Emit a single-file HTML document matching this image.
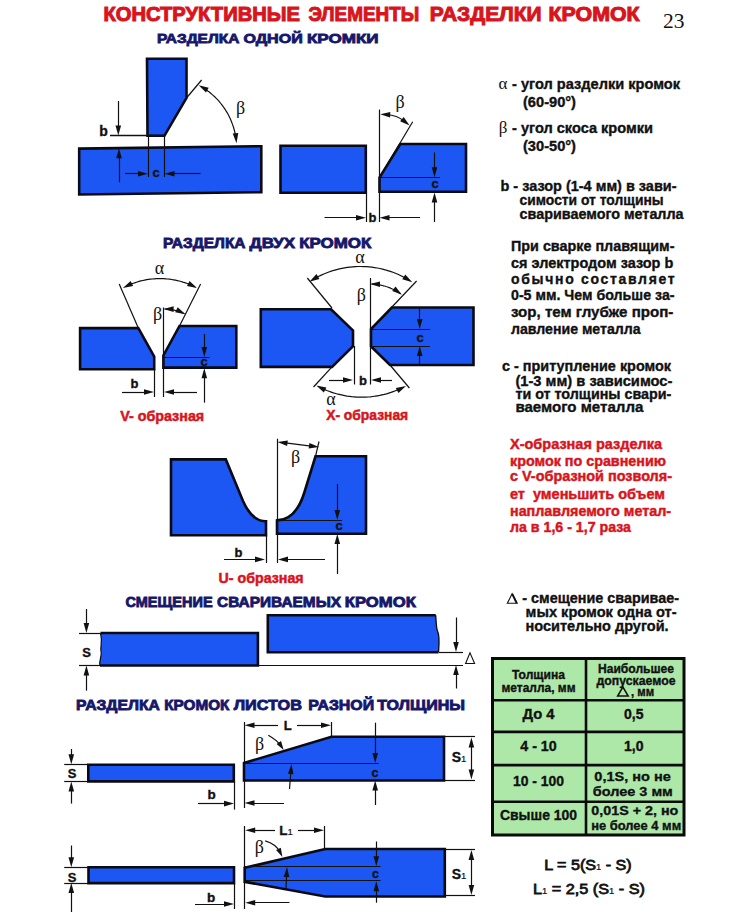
<!DOCTYPE html>
<html><head><meta charset="utf-8"><style>
html,body{margin:0;padding:0;background:#ffffff;}
body{width:743px;height:916px;overflow:hidden;position:relative;}
svg{position:absolute;left:0;top:0;}
</style></head><body>
<svg width="743" height="916" viewBox="0 0 743 916">
<text x="103.4" y="21" font-family="&quot;Liberation Sans&quot;, sans-serif" font-size="20" font-weight="bold" fill="#d8141c" text-anchor="start" textLength="196.6" lengthAdjust="spacingAndGlyphs" stroke="#d8141c" stroke-width="1.0" >КОНСТРУКТИВНЫЕ</text>
<text x="308.6" y="21" font-family="&quot;Liberation Sans&quot;, sans-serif" font-size="20" font-weight="bold" fill="#d8141c" text-anchor="start" textLength="110.7" lengthAdjust="spacingAndGlyphs" stroke="#d8141c" stroke-width="1.0" >ЭЛЕМЕНТЫ</text>
<text x="429.8" y="21" font-family="&quot;Liberation Sans&quot;, sans-serif" font-size="20" font-weight="bold" fill="#d8141c" text-anchor="start" textLength="111.9" lengthAdjust="spacingAndGlyphs" stroke="#d8141c" stroke-width="1.0" >РАЗДЕЛКИ</text>
<text x="548.5" y="21" font-family="&quot;Liberation Sans&quot;, sans-serif" font-size="20" font-weight="bold" fill="#d8141c" text-anchor="start" textLength="91.1" lengthAdjust="spacingAndGlyphs" stroke="#d8141c" stroke-width="1.0" >КРОМОК</text>
<text x="663" y="27.6" font-family="&quot;Liberation Serif&quot;, serif" font-size="22" font-weight="normal" fill="#111" text-anchor="start" textLength="21.5" lengthAdjust="spacingAndGlyphs" >23</text>
<text x="156.9" y="43.2" font-family="&quot;Liberation Sans&quot;, sans-serif" font-size="13.2" font-weight="bold" fill="#16166a" text-anchor="start" textLength="82.4" lengthAdjust="spacingAndGlyphs" stroke="#16166a" stroke-width="0.8" >РАЗДЕЛКА</text>
<text x="243.4" y="43.2" font-family="&quot;Liberation Sans&quot;, sans-serif" font-size="13.2" font-weight="bold" fill="#16166a" text-anchor="start" textLength="59.4" lengthAdjust="spacingAndGlyphs" stroke="#16166a" stroke-width="0.8" >ОДНОЙ</text>
<text x="306.9" y="43.2" font-family="&quot;Liberation Sans&quot;, sans-serif" font-size="13.2" font-weight="bold" fill="#16166a" text-anchor="start" textLength="71.7" lengthAdjust="spacingAndGlyphs" stroke="#16166a" stroke-width="0.8" >КРОМКИ</text>
<text x="162.9" y="247.5" font-family="&quot;Liberation Sans&quot;, sans-serif" font-size="14" font-weight="bold" fill="#16166a" text-anchor="start" textLength="82.6" lengthAdjust="spacingAndGlyphs" stroke="#16166a" stroke-width="0.8" >РАЗДЕЛКА</text>
<text x="249.6" y="247.5" font-family="&quot;Liberation Sans&quot;, sans-serif" font-size="14" font-weight="bold" fill="#16166a" text-anchor="start" textLength="45.5" lengthAdjust="spacingAndGlyphs" stroke="#16166a" stroke-width="0.8" >ДВУХ</text>
<text x="299.2" y="247.5" font-family="&quot;Liberation Sans&quot;, sans-serif" font-size="14" font-weight="bold" fill="#16166a" text-anchor="start" textLength="72.2" lengthAdjust="spacingAndGlyphs" stroke="#16166a" stroke-width="0.8" >КРОМОК</text>
<text x="125.5" y="606.8" font-family="&quot;Liberation Sans&quot;, sans-serif" font-size="14" font-weight="bold" fill="#16166a" text-anchor="start" textLength="87.1" lengthAdjust="spacingAndGlyphs" stroke="#16166a" stroke-width="0.8" >СМЕЩЕНИЕ</text>
<text x="217.0" y="606.8" font-family="&quot;Liberation Sans&quot;, sans-serif" font-size="14" font-weight="bold" fill="#16166a" text-anchor="start" textLength="124.1" lengthAdjust="spacingAndGlyphs" stroke="#16166a" stroke-width="0.8" >СВАРИВАЕМЫХ</text>
<text x="344.8" y="606.8" font-family="&quot;Liberation Sans&quot;, sans-serif" font-size="14" font-weight="bold" fill="#16166a" text-anchor="start" textLength="71.0" lengthAdjust="spacingAndGlyphs" stroke="#16166a" stroke-width="0.8" >КРОМОК</text>
<text x="76.1" y="709.6" font-family="&quot;Liberation Sans&quot;, sans-serif" font-size="14" font-weight="bold" fill="#16166a" text-anchor="start" textLength="83.8" lengthAdjust="spacingAndGlyphs" stroke="#16166a" stroke-width="0.8" >РАЗДЕЛКА</text>
<text x="164.3" y="709.6" font-family="&quot;Liberation Sans&quot;, sans-serif" font-size="14" font-weight="bold" fill="#16166a" text-anchor="start" textLength="65.1" lengthAdjust="spacingAndGlyphs" stroke="#16166a" stroke-width="0.8" >КРОМОК</text>
<text x="233.7" y="709.6" font-family="&quot;Liberation Sans&quot;, sans-serif" font-size="14" font-weight="bold" fill="#16166a" text-anchor="start" textLength="68.3" lengthAdjust="spacingAndGlyphs" stroke="#16166a" stroke-width="0.8" >ЛИСТОВ</text>
<text x="308.2" y="709.6" font-family="&quot;Liberation Sans&quot;, sans-serif" font-size="14" font-weight="bold" fill="#16166a" text-anchor="start" textLength="66.0" lengthAdjust="spacingAndGlyphs" stroke="#16166a" stroke-width="0.8" >РАЗНОЙ</text>
<text x="377.2" y="709.6" font-family="&quot;Liberation Sans&quot;, sans-serif" font-size="14" font-weight="bold" fill="#16166a" text-anchor="start" textLength="87.8" lengthAdjust="spacingAndGlyphs" stroke="#16166a" stroke-width="0.8" >ТОЛЩИНЫ</text>
<polygon points="79.2,148.6 261.3,146.2 261.3,192.2 79.2,194.5" fill="#1d57f3" stroke="#0a0a14" stroke-width="2.6" stroke-linejoin="miter"/>
<polygon points="147.0,58.8 186.5,58.8 186.5,98.0 164.4,135.8 147.5,135.8" fill="#1d57f3" stroke="#0a0a14" stroke-width="2.6" stroke-linejoin="miter"/>
<line x1="110.0" y1="135.5" x2="164.4" y2="135.5" stroke="#111" stroke-width="1.3"/>
<line x1="118.5" y1="101.0" x2="118.5" y2="129.5" stroke="#111" stroke-width="1.2"/>
<polygon points="118.3,135.5 115.5,125.5 121.1,125.5" fill="#111"/>
<text x="99.2" y="135.6" font-family="&quot;Liberation Sans&quot;, sans-serif" font-size="14" font-weight="bold" fill="#111" text-anchor="start" stroke="#111" stroke-width="0.35" >b</text>
<line x1="148.5" y1="136.0" x2="148.5" y2="177.0" stroke="#111" stroke-width="1.2"/>
<line x1="164.5" y1="136.0" x2="164.5" y2="177.0" stroke="#111" stroke-width="1.2"/>
<line x1="119.5" y1="182.3" x2="119.5" y2="154.3" stroke="#111" stroke-width="1.2"/>
<polygon points="119.0,148.3 121.8,158.3 116.2,158.3" fill="#111"/>
<line x1="125.0" y1="173.5" x2="142.0" y2="173.5" stroke="#111" stroke-width="1.2"/>
<polygon points="148.0,173.8 138.0,176.6 138.0,171.0" fill="#111"/>
<line x1="200.5" y1="173.5" x2="170.5" y2="173.5" stroke="#111" stroke-width="1.2"/>
<polygon points="164.5,173.8 174.5,171.0 174.5,176.6" fill="#111"/>
<text x="152.5" y="177" font-family="&quot;Liberation Sans&quot;, sans-serif" font-size="13" font-weight="bold" fill="#111" text-anchor="start" stroke="#111" stroke-width="0.35" >c</text>
<line x1="186.5" y1="98.0" x2="201.6" y2="80.0" stroke="#111" stroke-width="1.2"/>
<polyline points="201.8,87.0 203.4,87.9 204.9,88.9 206.4,89.9 207.8,91.0 209.3,92.1 210.7,93.2 212.0,94.4 213.4,95.6 214.7,96.8 216.0,98.1 217.3,99.4 218.5,100.7 219.7,102.1 220.8,103.5 221.9,104.9 223.0,106.4 224.1,107.8 225.1,109.3 226.0,110.9 227.0,112.4 227.9,114.0 228.7,115.6 229.5,117.2 230.3,118.8 231.0,120.5 231.7,122.2 232.3,123.9 232.9,125.6 233.5,127.3 234.0,129.0 234.5,130.8 234.9,132.5 235.3,134.3 235.6,136.1 235.9,137.9 236.2,139.7" fill="none" stroke="#111" stroke-width="1.2"/>
<polygon points="236.5,143.2 232.7,133.6 238.3,133.0" fill="#111"/>
<polygon points="198.7,85.2 208.7,87.7 206.0,92.5" fill="#111"/>
<text x="240.5" y="114" font-family="&quot;Liberation Serif&quot;, serif" font-size="18" font-weight="normal" fill="#111" text-anchor="middle" >β</text>
<polygon points="280.5,145.8 365.8,145.8 365.8,192.8 280.5,192.8" fill="#1d57f3" stroke="#0a0a14" stroke-width="2.6" stroke-linejoin="miter"/>
<polygon points="400.3,144.0 466.0,144.0 466.0,191.8 379.5,191.8 379.5,177.5" fill="#1d57f3" stroke="#0a0a14" stroke-width="2.6" stroke-linejoin="miter"/>
<line x1="379.5" y1="177.5" x2="440.0" y2="177.5" stroke="#111" stroke-width="1.2"/>
<line x1="379.5" y1="109.6" x2="379.5" y2="222.0" stroke="#111" stroke-width="1.2"/>
<line x1="366.5" y1="193.0" x2="366.5" y2="222.0" stroke="#111" stroke-width="1.2"/>
<line x1="324.5" y1="217.5" x2="360.0" y2="217.5" stroke="#111" stroke-width="1.2"/>
<polygon points="366.0,217.7 356.0,220.5 356.0,214.9" fill="#111"/>
<line x1="420.0" y1="217.5" x2="385.5" y2="217.5" stroke="#111" stroke-width="1.2"/>
<polygon points="379.5,217.7 389.5,214.9 389.5,220.5" fill="#111"/>
<text x="368.5" y="222" font-family="&quot;Liberation Sans&quot;, sans-serif" font-size="13" font-weight="bold" fill="#111" text-anchor="start" stroke="#111" stroke-width="0.35" >b</text>
<line x1="379.5" y1="177.5" x2="412.7" y2="121.7" stroke="#111" stroke-width="1.2"/>
<path d="M386.2,114.5 Q397.0,115.0 405.0,121.7" fill="none" stroke="#111" stroke-width="1.2"/>
<polygon points="409.6,125.5 400.1,121.2 403.7,116.9" fill="#111"/>
<polygon points="380.2,114.2 390.3,111.9 390.1,117.5" fill="#111"/>
<text x="400" y="107.5" font-family="&quot;Liberation Serif&quot;, serif" font-size="18" font-weight="normal" fill="#111" text-anchor="middle" >β</text>
<line x1="434.5" y1="152.5" x2="434.5" y2="171.3" stroke="#111" stroke-width="1.2"/>
<polygon points="434.5,177.3 431.7,167.3 437.3,167.3" fill="#111"/>
<line x1="434.5" y1="222.0" x2="434.5" y2="198.5" stroke="#111" stroke-width="1.2"/>
<polygon points="434.5,192.5 437.3,202.5 431.7,202.5" fill="#111"/>
<text x="431.5" y="188" font-family="&quot;Liberation Sans&quot;, sans-serif" font-size="13" font-weight="bold" fill="#111" text-anchor="start" stroke="#111" stroke-width="0.35" >c</text>
<polygon points="80.1,328.1 138.3,328.1 154.2,356.7 154.2,369.3 80.1,369.3" fill="#1d57f3" stroke="#0a0a14" stroke-width="2.6" stroke-linejoin="miter"/>
<polygon points="179.5,326.0 236.3,326.0 236.3,367.6 163.4,367.6 163.4,355.5" fill="#1d57f3" stroke="#0a0a14" stroke-width="2.6" stroke-linejoin="miter"/>
<line x1="163.4" y1="357.5" x2="209.5" y2="357.5" stroke="#111" stroke-width="1.2"/>
<line x1="138.3" y1="328.1" x2="119.2" y2="283.9" stroke="#111" stroke-width="1.2"/>
<line x1="179.5" y1="326.0" x2="200.6" y2="283.9" stroke="#111" stroke-width="1.2"/>
<polyline points="126.4,286.2 128.1,285.3 129.9,284.6 131.7,283.9 133.5,283.2 135.3,282.6 137.2,282.0 139.0,281.4 140.9,280.9 142.8,280.5 144.7,280.1 146.6,279.7 148.5,279.4 150.4,279.2 152.3,279.0 154.2,278.8 156.2,278.7 158.1,278.6 160.0,278.6 162.0,278.6 163.9,278.7 165.8,278.8 167.8,279.0 169.7,279.2 171.6,279.5 173.5,279.8 175.4,280.2 177.3,280.6 179.2,281.0 181.0,281.5 182.9,282.1 184.7,282.6 186.6,283.3 188.4,284.0 190.2,284.7 191.9,285.5 193.7,286.3" fill="none" stroke="#111" stroke-width="1.2"/>
<polygon points="197.1,288.0 187.0,286.0 189.5,281.0" fill="#111"/>
<polygon points="122.9,287.9 130.6,280.9 133.1,285.9" fill="#111"/>
<text x="159.5" y="273.5" font-family="&quot;Liberation Serif&quot;, serif" font-size="18" font-weight="normal" fill="#111" text-anchor="middle" >α</text>
<line x1="163.5" y1="307.5" x2="163.5" y2="397.0" stroke="#111" stroke-width="1.2"/>
<line x1="154.5" y1="368.8" x2="154.5" y2="397.0" stroke="#111" stroke-width="1.2"/>
<polyline points="164.7,309.0 165.3,309.0 165.9,309.1 166.4,309.1 167.0,309.1 167.6,309.2 168.1,309.2 168.7,309.3 169.2,309.3 169.8,309.4 170.4,309.5 170.9,309.6 171.5,309.7 172.0,309.7 172.6,309.9 173.1,310.0 173.7,310.1 174.3,310.2 174.8,310.3 175.4,310.5 175.9,310.6 176.4,310.8 177.0,310.9 177.5,311.1 178.1,311.2 178.6,311.4 179.1,311.6 179.7,311.8 180.2,312.0 180.7,312.2 181.3,312.4 181.8,312.6 182.3,312.8 182.8,313.0 183.4,313.3 183.9,313.5 184.4,313.7" fill="none" stroke="#111" stroke-width="1.2"/>
<polygon points="185.4,314.2 175.2,312.3 177.7,307.3" fill="#111"/>
<polygon points="163.6,309.0 173.6,306.3 173.6,311.9" fill="#111"/>
<text x="157.5" y="320" font-family="&quot;Liberation Serif&quot;, serif" font-size="18" font-weight="normal" fill="#111" text-anchor="middle" >β</text>
<line x1="122.0" y1="392.5" x2="148.0" y2="392.5" stroke="#111" stroke-width="1.2"/>
<polygon points="154.0,392.0 144.0,394.8 144.0,389.2" fill="#111"/>
<line x1="197.0" y1="392.5" x2="170.0" y2="392.5" stroke="#111" stroke-width="1.2"/>
<polygon points="164.0,392.0 174.0,389.2 174.0,394.8" fill="#111"/>
<text x="130.5" y="388" font-family="&quot;Liberation Sans&quot;, sans-serif" font-size="13" font-weight="bold" fill="#111" text-anchor="start" stroke="#111" stroke-width="0.35" >b</text>
<line x1="204.5" y1="334.0" x2="204.5" y2="351.0" stroke="#111" stroke-width="1.2"/>
<polygon points="204.3,357.0 201.5,347.0 207.1,347.0" fill="#111"/>
<line x1="204.5" y1="402.6" x2="204.5" y2="374.3" stroke="#111" stroke-width="1.2"/>
<polygon points="204.3,368.3 207.1,378.3 201.5,378.3" fill="#111"/>
<text x="200.5" y="366" font-family="&quot;Liberation Sans&quot;, sans-serif" font-size="13" font-weight="bold" fill="#111" text-anchor="start" stroke="#111" stroke-width="0.35" >c</text>
<text x="120.2" y="420.7" font-family="&quot;Liberation Sans&quot;, sans-serif" font-size="14" font-weight="bold" fill="#d8141c" text-anchor="start" textLength="84" lengthAdjust="spacingAndGlyphs" stroke="#d8141c" stroke-width="0.5" >V- образная</text>
<polygon points="260.8,309.2 331.0,309.2 353.0,330.5 353.0,346.3 332.0,366.9 260.8,366.9" fill="#1d57f3" stroke="#0a0a14" stroke-width="2.6" stroke-linejoin="miter"/>
<polygon points="391.8,307.5 473.5,307.5 473.5,365.0 390.0,365.0 371.0,346.5 371.0,329.0" fill="#1d57f3" stroke="#0a0a14" stroke-width="2.6" stroke-linejoin="miter"/>
<line x1="371.0" y1="329.5" x2="430.0" y2="329.5" stroke="#111" stroke-width="1.2"/>
<line x1="371.0" y1="346.5" x2="430.0" y2="346.5" stroke="#111" stroke-width="1.2"/>
<line x1="419.5" y1="307.0" x2="419.5" y2="323.0" stroke="#111" stroke-width="1.2"/>
<polygon points="419.7,329.0 416.9,319.0 422.5,319.0" fill="#111"/>
<line x1="419.5" y1="365.0" x2="419.5" y2="352.0" stroke="#111" stroke-width="1.2"/>
<polygon points="419.7,346.0 422.5,356.0 416.9,356.0" fill="#111"/>
<text x="416.5" y="341.5" font-family="&quot;Liberation Sans&quot;, sans-serif" font-size="13" font-weight="bold" fill="#111" text-anchor="start" stroke="#111" stroke-width="0.35" >c</text>
<line x1="332.0" y1="308.0" x2="307.3" y2="278.0" stroke="#111" stroke-width="1.2"/>
<line x1="391.5" y1="307.5" x2="416.6" y2="281.0" stroke="#111" stroke-width="1.2"/>
<line x1="332.0" y1="366.8" x2="313.5" y2="387.0" stroke="#111" stroke-width="1.2"/>
<line x1="390.0" y1="365.0" x2="409.4" y2="388.0" stroke="#111" stroke-width="1.2"/>
<polyline points="314.1,278.9 316.4,277.6 318.9,276.3 321.3,275.1 323.8,274.0 326.3,273.0 328.9,272.0 331.4,271.1 334.0,270.3 336.7,269.6 339.3,268.9 342.0,268.4 344.6,267.9 347.3,267.4 350.0,267.1 352.7,266.8 355.5,266.6 358.2,266.5 360.9,266.5 363.6,266.6 366.4,266.7 369.1,266.9 371.8,267.2 374.5,267.6 377.2,268.0 379.8,268.5 382.5,269.1 385.1,269.8 387.7,270.6 390.3,271.4 392.9,272.3 395.4,273.3 397.9,274.3 400.4,275.5 402.9,276.7 405.3,277.9 407.6,279.3" fill="none" stroke="#111" stroke-width="1.2"/>
<polygon points="412.3,282.2 402.3,279.2 405.3,274.5" fill="#111"/>
<polygon points="309.4,281.7 316.5,274.1 319.4,278.9" fill="#111"/>
<text x="360" y="263" font-family="&quot;Liberation Serif&quot;, serif" font-size="18" font-weight="normal" fill="#111" text-anchor="middle" >α</text>
<polyline points="320.4,387.6 322.5,388.6 324.7,389.6 326.8,390.5 329.0,391.3 331.2,392.1 333.4,392.9 335.7,393.5 337.9,394.2 340.2,394.7 342.5,395.2 344.8,395.7 347.1,396.1 349.4,396.4 351.7,396.7 354.1,396.9 356.4,397.1 358.8,397.2 361.1,397.2 363.4,397.2 365.8,397.1 368.1,397.0 370.4,396.8 372.8,396.5 375.1,396.2 377.4,395.8 379.7,395.4 382.0,394.9 384.3,394.4 386.5,393.8 388.8,393.1 391.0,392.4 393.2,391.6 395.4,390.8 397.6,389.9 399.7,389.0 401.9,388.0" fill="none" stroke="#111" stroke-width="1.2"/>
<polygon points="406.0,385.9 398.4,392.9 395.8,387.9" fill="#111"/>
<polygon points="316.3,385.5 326.4,387.6 323.8,392.6" fill="#111"/>
<text x="331" y="404.5" font-family="&quot;Liberation Serif&quot;, serif" font-size="18" font-weight="normal" fill="#111" text-anchor="middle" >α</text>
<line x1="370.5" y1="278.0" x2="370.5" y2="384.5" stroke="#111" stroke-width="1.2"/>
<line x1="354.5" y1="346.0" x2="354.5" y2="384.5" stroke="#111" stroke-width="1.2"/>
<polyline points="371.7,284.0 372.6,284.1 373.4,284.1 374.3,284.2 375.1,284.2 376.0,284.3 376.8,284.4 377.7,284.6 378.5,284.7 379.4,284.8 380.2,285.0 381.0,285.2 381.9,285.3 382.7,285.5 383.5,285.8 384.4,286.0 385.2,286.2 386.0,286.5 386.8,286.7 387.6,287.0 388.4,287.3 389.2,287.6 390.0,287.9 390.8,288.3 391.6,288.6 392.4,289.0 393.2,289.3 393.9,289.7 394.7,290.1 395.4,290.5 396.2,290.9 396.9,291.3 397.7,291.8 398.4,292.2 399.1,292.7 399.8,293.2 400.5,293.7" fill="none" stroke="#111" stroke-width="1.2"/>
<polygon points="401.9,294.7 392.2,291.0 395.5,286.5" fill="#111"/>
<polygon points="370.0,284.0 380.0,281.4 380.0,287.0" fill="#111"/>
<text x="361.3" y="300.5" font-family="&quot;Liberation Serif&quot;, serif" font-size="18" font-weight="normal" fill="#111" text-anchor="middle" >β</text>
<line x1="329.0" y1="380.5" x2="347.0" y2="380.5" stroke="#111" stroke-width="1.2"/>
<polygon points="353.0,380.0 343.0,382.8 343.0,377.2" fill="#111"/>
<line x1="392.0" y1="380.5" x2="377.0" y2="380.5" stroke="#111" stroke-width="1.2"/>
<polygon points="371.0,380.0 381.0,377.2 381.0,382.8" fill="#111"/>
<text x="359" y="385" font-family="&quot;Liberation Sans&quot;, sans-serif" font-size="13" font-weight="bold" fill="#111" text-anchor="start" stroke="#111" stroke-width="0.35" >b</text>
<text x="326.2" y="419.7" font-family="&quot;Liberation Sans&quot;, sans-serif" font-size="14" font-weight="bold" fill="#d8141c" text-anchor="start" textLength="82" lengthAdjust="spacingAndGlyphs" stroke="#d8141c" stroke-width="0.5" >X- образная</text>
<path d="M171,459.4 L225.8,459.4 L243,501 Q252,521.3 266,521.3 L266,535.3 L171,535.3 Z" fill="#1d57f3" stroke="#0a0a14" stroke-width="2.6"/>
<path d="M277,520.4 Q296,520 304.5,492 L315.5,456.3 L366,456.3 L366,533.7 L277,533.7 Z" fill="#1d57f3" stroke="#0a0a14" stroke-width="2.6"/>
<line x1="277.0" y1="520.5" x2="342.0" y2="520.5" stroke="#111" stroke-width="1.2"/>
<line x1="337.5" y1="484.0" x2="337.5" y2="514.0" stroke="#111" stroke-width="1.2"/>
<polygon points="337.3,520.0 334.5,510.0 340.1,510.0" fill="#111"/>
<line x1="337.5" y1="574.0" x2="337.5" y2="540.0" stroke="#111" stroke-width="1.2"/>
<polygon points="337.3,534.0 340.1,544.0 334.5,544.0" fill="#111"/>
<text x="335.5" y="530" font-family="&quot;Liberation Sans&quot;, sans-serif" font-size="13" font-weight="bold" fill="#111" text-anchor="start" stroke="#111" stroke-width="0.35" >c</text>
<line x1="277.5" y1="438.7" x2="277.5" y2="563.0" stroke="#111" stroke-width="1.2"/>
<line x1="266.5" y1="535.3" x2="266.5" y2="563.0" stroke="#111" stroke-width="1.2"/>
<line x1="315.5" y1="456.3" x2="319.0" y2="441.5" stroke="#111" stroke-width="1.2"/>
<line x1="283.5" y1="442.7" x2="313.0" y2="446.3" stroke="#111" stroke-width="1.2"/>
<polygon points="319.0,447.0 308.7,448.6 309.4,443.0" fill="#111"/>
<polygon points="277.5,442.0 287.8,440.4 287.1,446.0" fill="#111"/>
<text x="295.5" y="463" font-family="&quot;Liberation Serif&quot;, serif" font-size="18" font-weight="normal" fill="#111" text-anchor="middle" >β</text>
<line x1="224.0" y1="559.5" x2="259.0" y2="559.5" stroke="#111" stroke-width="1.2"/>
<polygon points="265.0,559.4 255.0,562.2 255.0,556.6" fill="#111"/>
<line x1="325.0" y1="559.5" x2="284.0" y2="559.5" stroke="#111" stroke-width="1.2"/>
<polygon points="278.0,559.4 288.0,556.6 288.0,562.2" fill="#111"/>
<text x="234.5" y="557" font-family="&quot;Liberation Sans&quot;, sans-serif" font-size="13" font-weight="bold" fill="#111" text-anchor="start" stroke="#111" stroke-width="0.35" >b</text>
<text x="218.6" y="583.4" font-family="&quot;Liberation Sans&quot;, sans-serif" font-size="14" font-weight="bold" fill="#d8141c" text-anchor="start" textLength="85" lengthAdjust="spacingAndGlyphs" stroke="#d8141c" stroke-width="0.5" >U- образная</text>
<path d="M100.5,633 L257.9,633 L257.9,665.5 L100,665.5 C98.5,661 102.5,656 101,651 C100,647 103,642 100.5,633 Z" fill="#1d57f3" stroke="none"/>
<path d="M100.5,633 L257.9,633 L257.9,665.5 L100,665.5" fill="none" stroke="#0a0a14" stroke-width="2.6"/>
<path d="M100,665.5 C98.5,661 102.5,656 101,651 C100,647 103,642 100.5,633" fill="none" stroke="#0a0a14" stroke-width="1.2"/>
<line x1="79.0" y1="633.5" x2="100.0" y2="633.5" stroke="#111" stroke-width="1.2"/>
<line x1="79.0" y1="665.5" x2="100.0" y2="665.5" stroke="#111" stroke-width="1.2"/>
<line x1="86.5" y1="609.0" x2="86.5" y2="627.0" stroke="#111" stroke-width="1.2"/>
<polygon points="86.4,633.0 83.6,623.0 89.2,623.0" fill="#111"/>
<line x1="86.5" y1="690.7" x2="86.5" y2="671.5" stroke="#111" stroke-width="1.2"/>
<polygon points="86.4,665.5 89.2,675.5 83.6,675.5" fill="#111"/>
<text x="86.5" y="657" font-family="&quot;Liberation Sans&quot;, sans-serif" font-size="13" font-weight="bold" fill="#111" text-anchor="middle" stroke="#111" stroke-width="0.35" >S</text>
<path d="M438.5,652.3 L267.8,652.3 L267.8,615.2 L435.7,615.2 C436.3,622 436,627 437.5,631 C440,636 439,646 438.5,652.3 Z" fill="#1d57f3" stroke="none"/>
<path d="M438.5,652.3 L267.8,652.3 L267.8,615.2 L435.7,615.2" fill="none" stroke="#0a0a14" stroke-width="2.6"/>
<path d="M435.7,615.2 C436.3,622 436,627 437.5,631 C440,636 439,646 438.5,652.3" fill="none" stroke="#0a0a14" stroke-width="1.3"/>
<line x1="439.0" y1="652.5" x2="463.0" y2="652.5" stroke="#111" stroke-width="1.2"/>
<line x1="258.0" y1="665.5" x2="463.0" y2="665.5" stroke="#111" stroke-width="1.2"/>
<line x1="456.5" y1="617.5" x2="456.5" y2="646.0" stroke="#111" stroke-width="1.2"/>
<polygon points="456.0,652.0 453.2,642.0 458.8,642.0" fill="#111"/>
<line x1="456.5" y1="688.5" x2="456.5" y2="671.0" stroke="#111" stroke-width="1.2"/>
<polygon points="456.0,665.0 458.8,675.0 453.2,675.0" fill="#111"/>
<polygon points="470,652.8 465.6,663.5 474.6,663.5" fill="none" stroke="#111" stroke-width="1.1"/>
<polygon points="88.3,764.8 233.8,764.8 233.8,781.4 88.3,781.4" fill="#1d57f3" stroke="#0a0a14" stroke-width="2.6" stroke-linejoin="miter"/>
<line x1="64.2" y1="764.5" x2="88.0" y2="764.5" stroke="#111" stroke-width="1.2"/>
<line x1="64.2" y1="781.5" x2="88.0" y2="781.5" stroke="#111" stroke-width="1.2"/>
<line x1="71.5" y1="749.0" x2="71.5" y2="758.3" stroke="#111" stroke-width="1.2"/>
<polygon points="71.3,764.3 68.5,754.3 74.1,754.3" fill="#111"/>
<line x1="71.5" y1="803.6" x2="71.5" y2="787.4" stroke="#111" stroke-width="1.2"/>
<polygon points="71.3,781.4 74.1,791.4 68.5,791.4" fill="#111"/>
<text x="72" y="778" font-family="&quot;Liberation Sans&quot;, sans-serif" font-size="13" font-weight="bold" fill="#111" text-anchor="middle" stroke="#111" stroke-width="0.35" >S</text>
<line x1="234.5" y1="781.4" x2="234.5" y2="809.6" stroke="#111" stroke-width="1.2"/>
<line x1="244.5" y1="722.0" x2="244.5" y2="808.0" stroke="#111" stroke-width="1.2"/>
<line x1="198.0" y1="803.5" x2="228.0" y2="803.5" stroke="#111" stroke-width="1.2"/>
<polygon points="234.0,803.6 224.0,806.4 224.0,800.8" fill="#111"/>
<line x1="284.0" y1="803.5" x2="250.5" y2="803.5" stroke="#111" stroke-width="1.2"/>
<polygon points="244.5,803.0 254.5,800.2 254.5,805.8" fill="#111"/>
<text x="207.5" y="799" font-family="&quot;Liberation Sans&quot;, sans-serif" font-size="13.5" font-weight="bold" fill="#111" text-anchor="start" stroke="#111" stroke-width="0.35" >b</text>
<polygon points="244.0,763.0 331.5,736.7 444.0,736.7 444.0,780.5 244.0,780.5" fill="#1d57f3" stroke="#0a0a14" stroke-width="2.6" stroke-linejoin="miter"/>
<line x1="244.0" y1="763.5" x2="378.7" y2="763.5" stroke="#111" stroke-width="1.2"/>
<line x1="375.5" y1="722.7" x2="375.5" y2="757.0" stroke="#111" stroke-width="1.2"/>
<polygon points="375.2,763.0 372.4,753.0 378.0,753.0" fill="#111"/>
<line x1="375.5" y1="805.0" x2="375.5" y2="786.5" stroke="#111" stroke-width="1.2"/>
<polygon points="375.2,780.5 378.0,790.5 372.4,790.5" fill="#111"/>
<text x="371.5" y="777" font-family="&quot;Liberation Sans&quot;, sans-serif" font-size="12.5" font-weight="bold" fill="#111" text-anchor="start" stroke="#111" stroke-width="0.35" >c</text>
<line x1="278.0" y1="725.5" x2="250.5" y2="725.5" stroke="#111" stroke-width="1.2"/>
<polygon points="244.5,725.2 254.5,722.4 254.5,728.0" fill="#111"/>
<line x1="297.0" y1="725.5" x2="325.0" y2="725.5" stroke="#111" stroke-width="1.2"/>
<polygon points="331.0,725.2 321.0,728.0 321.0,722.4" fill="#111"/>
<line x1="331.5" y1="722.0" x2="331.5" y2="736.7" stroke="#111" stroke-width="1.2"/>
<text x="287.7" y="730" font-family="&quot;Liberation Sans&quot;, sans-serif" font-size="13" font-weight="bold" fill="#111" text-anchor="middle" stroke="#111" stroke-width="0.35" >L</text>
<text x="259.5" y="749.5" font-family="&quot;Liberation Serif&quot;, serif" font-size="18" font-weight="normal" fill="#111" text-anchor="middle" >β</text>
<path d="M268.3,735.2 Q277.5,740.5 280.7,745.5" fill="none" stroke="#111" stroke-width="1.2"/>
<polygon points="283.7,750.0 276.6,743.9 281.0,741.0" fill="#111"/>
<line x1="289.5" y1="789.0" x2="291.0" y2="770.0" stroke="#111" stroke-width="1.2"/>
<polygon points="291.5,764.0 293.5,774.2 287.9,773.7" fill="#111"/>
<line x1="444.0" y1="736.5" x2="475.0" y2="736.5" stroke="#111" stroke-width="1.2"/>
<line x1="444.0" y1="780.5" x2="475.0" y2="780.5" stroke="#111" stroke-width="1.2"/>
<line x1="471.5" y1="743.5" x2="471.5" y2="773.5" stroke="#111" stroke-width="1.2"/>
<polygon points="471.4,779.5 468.6,769.5 474.2,769.5" fill="#111"/>
<polygon points="471.4,737.5 474.2,747.5 468.6,747.5" fill="#111"/>
<text x="451.7" y="761.7" font-family="&quot;Liberation Sans&quot;, sans-serif" font-size="14" font-weight="bold" fill="#111" text-anchor="start" stroke="#111" stroke-width="0.35" >S<tspan font-size='9.5' font-weight='normal' stroke-width='0.2'>1</tspan></text>
<polygon points="88.5,867.2 234.0,867.2 234.0,883.1 88.5,883.1" fill="#1d57f3" stroke="#0a0a14" stroke-width="2.6" stroke-linejoin="miter"/>
<line x1="64.2" y1="867.5" x2="88.5" y2="867.5" stroke="#111" stroke-width="1.2"/>
<line x1="64.2" y1="883.5" x2="88.5" y2="883.5" stroke="#111" stroke-width="1.2"/>
<line x1="71.5" y1="845.5" x2="71.5" y2="861.2" stroke="#111" stroke-width="1.2"/>
<polygon points="71.3,867.2 68.5,857.2 74.1,857.2" fill="#111"/>
<line x1="71.5" y1="912.0" x2="71.5" y2="889.1" stroke="#111" stroke-width="1.2"/>
<polygon points="71.3,883.1 74.1,893.1 68.5,893.1" fill="#111"/>
<text x="72" y="881.5" font-family="&quot;Liberation Sans&quot;, sans-serif" font-size="13" font-weight="bold" fill="#111" text-anchor="middle" stroke="#111" stroke-width="0.35" >S</text>
<line x1="234.5" y1="883.1" x2="234.5" y2="909.0" stroke="#111" stroke-width="1.2"/>
<line x1="244.5" y1="826.0" x2="244.5" y2="909.0" stroke="#111" stroke-width="1.2"/>
<line x1="195.0" y1="904.5" x2="228.0" y2="904.5" stroke="#111" stroke-width="1.2"/>
<polygon points="234.0,904.0 224.0,906.8 224.0,901.2" fill="#111"/>
<line x1="289.5" y1="902.5" x2="251.2" y2="902.5" stroke="#111" stroke-width="1.2"/>
<polygon points="245.2,902.7 255.2,899.9 255.2,905.5" fill="#111"/>
<text x="207" y="902" font-family="&quot;Liberation Sans&quot;, sans-serif" font-size="13.5" font-weight="bold" fill="#111" text-anchor="start" stroke="#111" stroke-width="0.35" >b</text>
<polygon points="244.7,867.7 325.3,849.0 444.8,849.0 444.8,896.5 325.3,896.5 244.7,881.8" fill="#1d57f3" stroke="#0a0a14" stroke-width="2.6" stroke-linejoin="miter"/>
<line x1="244.7" y1="866.5" x2="380.5" y2="866.5" stroke="#111" stroke-width="1.2"/>
<line x1="244.7" y1="880.5" x2="380.5" y2="880.5" stroke="#111" stroke-width="1.2"/>
<line x1="376.5" y1="841.5" x2="376.5" y2="860.3" stroke="#111" stroke-width="1.2"/>
<polygon points="376.3,866.3 373.5,856.3 379.1,856.3" fill="#111"/>
<line x1="376.5" y1="902.7" x2="376.5" y2="887.2" stroke="#111" stroke-width="1.2"/>
<polygon points="376.3,881.2 379.1,891.2 373.5,891.2" fill="#111"/>
<text x="372" y="877.5" font-family="&quot;Liberation Sans&quot;, sans-serif" font-size="12.5" font-weight="bold" fill="#111" text-anchor="start" stroke="#111" stroke-width="0.35" >c</text>
<line x1="275.0" y1="830.5" x2="251.2" y2="830.5" stroke="#111" stroke-width="1.2"/>
<polygon points="245.2,830.3 255.2,827.5 255.2,833.1" fill="#111"/>
<line x1="298.0" y1="830.5" x2="318.0" y2="830.5" stroke="#111" stroke-width="1.2"/>
<polygon points="324.0,830.3 314.0,833.1 314.0,827.5" fill="#111"/>
<line x1="324.5" y1="826.0" x2="324.5" y2="849.0" stroke="#111" stroke-width="1.2"/>
<text x="279.2" y="835.3" font-family="&quot;Liberation Sans&quot;, sans-serif" font-size="13.5" font-weight="bold" fill="#111" text-anchor="start" stroke="#111" stroke-width="0.35" >L<tspan font-size='9.5' font-weight='normal' stroke-width='0.2'>1</tspan></text>
<text x="259.3" y="852.5" font-family="&quot;Liberation Serif&quot;, serif" font-size="18" font-weight="normal" fill="#111" text-anchor="middle" >β</text>
<path d="M265.2,840.9 Q276.0,844.0 280.0,852.2" fill="none" stroke="#111" stroke-width="1.2"/>
<polygon points="282.4,857.0 276.1,850.1 280.8,847.8" fill="#111"/>
<line x1="286.0" y1="888.7" x2="286.7" y2="873.0" stroke="#111" stroke-width="1.2"/>
<polygon points="287.0,867.0 289.3,877.1 283.7,876.9" fill="#111"/>
<line x1="444.8" y1="849.5" x2="475.0" y2="849.5" stroke="#111" stroke-width="1.2"/>
<line x1="444.8" y1="895.5" x2="475.0" y2="895.5" stroke="#111" stroke-width="1.2"/>
<line x1="471.5" y1="856.0" x2="471.5" y2="889.0" stroke="#111" stroke-width="1.2"/>
<polygon points="471.4,895.0 468.6,885.0 474.2,885.0" fill="#111"/>
<polygon points="471.4,850.0 474.2,860.0 468.6,860.0" fill="#111"/>
<text x="451.7" y="879.4" font-family="&quot;Liberation Sans&quot;, sans-serif" font-size="14" font-weight="bold" fill="#111" text-anchor="start" stroke="#111" stroke-width="0.35" >S<tspan font-size='9.5' font-weight='normal' stroke-width='0.2'>1</tspan></text>
<text x="503" y="88.8" font-family="&quot;Liberation Serif&quot;, serif" font-size="17" font-weight="normal" fill="#111" text-anchor="middle" >α</text>
<text x="512" y="88.8" font-family="&quot;Liberation Sans&quot;, sans-serif" font-size="14" font-weight="bold" fill="#111" text-anchor="start" textLength="168" lengthAdjust="spacingAndGlyphs" stroke="#111" stroke-width="0.35" >- угол разделки кромок</text>
<text x="523" y="107.4" font-family="&quot;Liberation Sans&quot;, sans-serif" font-size="14" font-weight="bold" fill="#111" text-anchor="start" textLength="53" lengthAdjust="spacingAndGlyphs" stroke="#111" stroke-width="0.35" >(60-90°)</text>
<text x="503" y="132.6" font-family="&quot;Liberation Serif&quot;, serif" font-size="17" font-weight="normal" fill="#111" text-anchor="middle" >β</text>
<text x="512" y="132.6" font-family="&quot;Liberation Sans&quot;, sans-serif" font-size="14" font-weight="bold" fill="#111" text-anchor="start" textLength="141" lengthAdjust="spacingAndGlyphs" stroke="#111" stroke-width="0.35" >- угол скоса кромки</text>
<text x="523" y="151.4" font-family="&quot;Liberation Sans&quot;, sans-serif" font-size="14" font-weight="bold" fill="#111" text-anchor="start" textLength="53" lengthAdjust="spacingAndGlyphs" stroke="#111" stroke-width="0.35" >(30-50°)</text>
<text x="500.5" y="191" font-family="&quot;Liberation Sans&quot;, sans-serif" font-size="14" font-weight="bold" fill="#111" text-anchor="start" textLength="176" lengthAdjust="spacingAndGlyphs" stroke="#111" stroke-width="0.35" >b - зазор (1-4 мм) в зави-</text>
<text x="519.6" y="205.0" font-family="&quot;Liberation Sans&quot;, sans-serif" font-size="14" font-weight="bold" fill="#111" text-anchor="start" textLength="144" lengthAdjust="spacingAndGlyphs" stroke="#111" stroke-width="0.35" >симости от толщины</text>
<text x="519.6" y="219.4" font-family="&quot;Liberation Sans&quot;, sans-serif" font-size="14" font-weight="bold" fill="#111" text-anchor="start" textLength="164" lengthAdjust="spacingAndGlyphs" stroke="#111" stroke-width="0.35" >свариваемого металла</text>
<text x="511" y="250.7" font-family="&quot;Liberation Sans&quot;, sans-serif" font-size="14" font-weight="bold" fill="#111" text-anchor="start" textLength="163.5" lengthAdjust="spacingAndGlyphs" stroke="#111" stroke-width="0.35" >При сварке плавящим-</text>
<text x="511" y="267.5" font-family="&quot;Liberation Sans&quot;, sans-serif" font-size="14" font-weight="bold" fill="#111" text-anchor="start" textLength="162.3" lengthAdjust="spacingAndGlyphs" stroke="#111" stroke-width="0.35" >ся электродом зазор b</text>
<text x="511" y="283.5" font-family="&quot;Liberation Sans&quot;, sans-serif" font-size="14" font-weight="bold" fill="#111" text-anchor="start" textLength="62.8" lengthAdjust="spacing" stroke="#111" stroke-width="0.35" >обычно</text>
<text x="581" y="283.5" font-family="&quot;Liberation Sans&quot;, sans-serif" font-size="14" font-weight="bold" fill="#111" text-anchor="start" textLength="93.7" lengthAdjust="spacing" stroke="#111" stroke-width="0.35" >составляет</text>
<text x="511" y="300.2" font-family="&quot;Liberation Sans&quot;, sans-serif" font-size="14" font-weight="bold" fill="#111" text-anchor="start" textLength="163.5" lengthAdjust="spacingAndGlyphs" stroke="#111" stroke-width="0.35" >0-5 мм. Чем больше за-</text>
<text x="511" y="317.0" font-family="&quot;Liberation Sans&quot;, sans-serif" font-size="14" font-weight="bold" fill="#111" text-anchor="start" textLength="162.3" lengthAdjust="spacingAndGlyphs" stroke="#111" stroke-width="0.35" >зор, тем глубже проп-</text>
<text x="511" y="333.8" font-family="&quot;Liberation Sans&quot;, sans-serif" font-size="14" font-weight="bold" fill="#111" text-anchor="start" textLength="129.6" lengthAdjust="spacingAndGlyphs" stroke="#111" stroke-width="0.35" >лавление металла</text>
<text x="502" y="371" font-family="&quot;Liberation Sans&quot;, sans-serif" font-size="14" font-weight="bold" fill="#111" text-anchor="start" textLength="169" lengthAdjust="spacingAndGlyphs" stroke="#111" stroke-width="0.35" >с - притупление кромок</text>
<text x="515.4" y="385.5" font-family="&quot;Liberation Sans&quot;, sans-serif" font-size="14" font-weight="bold" fill="#111" text-anchor="start" textLength="157" lengthAdjust="spacingAndGlyphs" stroke="#111" stroke-width="0.35" >(1-3 мм) в зависимос-</text>
<text x="515.4" y="398.5" font-family="&quot;Liberation Sans&quot;, sans-serif" font-size="14" font-weight="bold" fill="#111" text-anchor="start" textLength="156" lengthAdjust="spacingAndGlyphs" stroke="#111" stroke-width="0.35" >ти от толщины свари-</text>
<text x="515.4" y="412" font-family="&quot;Liberation Sans&quot;, sans-serif" font-size="14" font-weight="bold" fill="#111" text-anchor="start" textLength="128" lengthAdjust="spacingAndGlyphs" stroke="#111" stroke-width="0.35" >ваемого металла</text>
<text x="510" y="449.4" font-family="&quot;Liberation Sans&quot;, sans-serif" font-size="14" font-weight="bold" fill="#d8141c" text-anchor="start" textLength="152" lengthAdjust="spacingAndGlyphs" stroke="#d8141c" stroke-width="0.45" xml:space="preserve">X-образная разделка</text>
<text x="510" y="465.8" font-family="&quot;Liberation Sans&quot;, sans-serif" font-size="14" font-weight="bold" fill="#d8141c" text-anchor="start" textLength="156" lengthAdjust="spacingAndGlyphs" stroke="#d8141c" stroke-width="0.45" xml:space="preserve">кромок по сравнению</text>
<text x="510" y="481.3" font-family="&quot;Liberation Sans&quot;, sans-serif" font-size="14" font-weight="bold" fill="#d8141c" text-anchor="start" textLength="162" lengthAdjust="spacingAndGlyphs" stroke="#d8141c" stroke-width="0.45" xml:space="preserve">с V-образной позволя-</text>
<text x="510" y="499" font-family="&quot;Liberation Sans&quot;, sans-serif" font-size="14" font-weight="bold" fill="#d8141c" text-anchor="start" textLength="155" lengthAdjust="spacingAndGlyphs" stroke="#d8141c" stroke-width="0.45" xml:space="preserve">ет  уменьшить объем</text>
<text x="510" y="516" font-family="&quot;Liberation Sans&quot;, sans-serif" font-size="14" font-weight="bold" fill="#d8141c" text-anchor="start" textLength="161" lengthAdjust="spacingAndGlyphs" stroke="#d8141c" stroke-width="0.45" xml:space="preserve">наплавляемого метал-</text>
<text x="510" y="531.7" font-family="&quot;Liberation Sans&quot;, sans-serif" font-size="14" font-weight="bold" fill="#d8141c" text-anchor="start" textLength="121" lengthAdjust="spacingAndGlyphs" stroke="#d8141c" stroke-width="0.45" xml:space="preserve">ла в 1,6 - 1,7 раза</text>
<path d="M512.1,593.7 L507.3,603.3 L517.2,603.3 Z" fill="none" stroke="#111" stroke-width="1.1"/><line x1="512.3" y1="594" x2="516.6" y2="603" stroke="#111" stroke-width="1.8"/>
<text x="522.3" y="603.3" font-family="&quot;Liberation Sans&quot;, sans-serif" font-size="14" font-weight="bold" fill="#111" text-anchor="start" textLength="156.7" lengthAdjust="spacingAndGlyphs" stroke="#111" stroke-width="0.35" >- смещение сваривае-</text>
<text x="525.6" y="617" font-family="&quot;Liberation Sans&quot;, sans-serif" font-size="14" font-weight="bold" fill="#111" text-anchor="start" textLength="151" lengthAdjust="spacingAndGlyphs" stroke="#111" stroke-width="0.35" >мых кромок одна от-</text>
<text x="525.6" y="631" font-family="&quot;Liberation Sans&quot;, sans-serif" font-size="14" font-weight="bold" fill="#111" text-anchor="start" textLength="143" lengthAdjust="spacingAndGlyphs" stroke="#111" stroke-width="0.35" >носительно другой.</text>
<rect x="492.5" y="658.5" width="191.5" height="176.5" fill="#aee8a8" stroke="#0a0a0a" stroke-width="3"/>
<line x1="492.5" y1="700.2" x2="684" y2="700.2" stroke="#0a0a0a" stroke-width="2.6"/>
<line x1="492.5" y1="731.9" x2="684" y2="731.9" stroke="#0a0a0a" stroke-width="2.6"/>
<line x1="492.5" y1="765.1" x2="684" y2="765.1" stroke="#0a0a0a" stroke-width="2.6"/>
<line x1="492.5" y1="801.8" x2="684" y2="801.8" stroke="#0a0a0a" stroke-width="2.6"/>
<line x1="586" y1="658.5" x2="586" y2="835" stroke="#0a0a0a" stroke-width="2.6"/>
<text x="538.5" y="679" font-family="&quot;Liberation Sans&quot;, sans-serif" font-size="12" font-weight="bold" fill="#111" text-anchor="middle" textLength="53" lengthAdjust="spacingAndGlyphs" stroke="#111" stroke-width="0.35" >Толщина</text>
<text x="538.5" y="691.5" font-family="&quot;Liberation Sans&quot;, sans-serif" font-size="12" font-weight="bold" fill="#111" text-anchor="middle" textLength="74" lengthAdjust="spacingAndGlyphs" stroke="#111" stroke-width="0.35" >металла, мм</text>
<text x="636" y="673.2" font-family="&quot;Liberation Sans&quot;, sans-serif" font-size="12" font-weight="bold" fill="#111" text-anchor="middle" textLength="76" lengthAdjust="spacingAndGlyphs" stroke="#111" stroke-width="0.35" >Наибольшее</text>
<text x="636" y="684.6" font-family="&quot;Liberation Sans&quot;, sans-serif" font-size="12" font-weight="bold" fill="#111" text-anchor="middle" textLength="79" lengthAdjust="spacingAndGlyphs" stroke="#111" stroke-width="0.35" >допускаемое</text>
<polygon points="622.9,687 617.6,696 628.2,696" fill="none" stroke="#111" stroke-width="1.5"/>
<text x="631" y="696" font-family="&quot;Liberation Sans&quot;, sans-serif" font-size="12" font-weight="bold" fill="#111" text-anchor="start" textLength="23.2" lengthAdjust="spacingAndGlyphs" stroke="#111" stroke-width="0.35" >, мм</text>
<text x="538.5" y="718.5" font-family="&quot;Liberation Sans&quot;, sans-serif" font-size="14" font-weight="bold" fill="#111" text-anchor="middle" textLength="32" lengthAdjust="spacingAndGlyphs" stroke="#111" stroke-width="0.35" >До 4</text>
<text x="633.8" y="718.5" font-family="&quot;Liberation Sans&quot;, sans-serif" font-size="14" font-weight="bold" fill="#111" text-anchor="middle" textLength="19.5" lengthAdjust="spacingAndGlyphs" stroke="#111" stroke-width="0.35" >0,5</text>
<text x="538.5" y="751.3" font-family="&quot;Liberation Sans&quot;, sans-serif" font-size="14" font-weight="bold" fill="#111" text-anchor="middle" textLength="36.5" lengthAdjust="spacingAndGlyphs" stroke="#111" stroke-width="0.35" >4 - 10</text>
<text x="633.8" y="751.3" font-family="&quot;Liberation Sans&quot;, sans-serif" font-size="14" font-weight="bold" fill="#111" text-anchor="middle" textLength="19.5" lengthAdjust="spacingAndGlyphs" stroke="#111" stroke-width="0.35" >1,0</text>
<text x="538.5" y="786.3" font-family="&quot;Liberation Sans&quot;, sans-serif" font-size="14" font-weight="bold" fill="#111" text-anchor="middle" textLength="51" lengthAdjust="spacingAndGlyphs" stroke="#111" stroke-width="0.35" >10 - 100</text>
<text x="632.6" y="781" font-family="&quot;Liberation Sans&quot;, sans-serif" font-size="13.5" font-weight="bold" fill="#111" text-anchor="middle" textLength="76.5" lengthAdjust="spacingAndGlyphs" stroke="#111" stroke-width="0.35" >0,1S, но не</text>
<text x="632.8" y="796" font-family="&quot;Liberation Sans&quot;, sans-serif" font-size="13.5" font-weight="bold" fill="#111" text-anchor="middle" textLength="80" lengthAdjust="spacingAndGlyphs" stroke="#111" stroke-width="0.35" >более 3 мм</text>
<text x="538.5" y="820" font-family="&quot;Liberation Sans&quot;, sans-serif" font-size="14" font-weight="bold" fill="#111" text-anchor="middle" textLength="77" lengthAdjust="spacingAndGlyphs" stroke="#111" stroke-width="0.35" >Свыше 100</text>
<text x="634.8" y="814.8" font-family="&quot;Liberation Sans&quot;, sans-serif" font-size="13.5" font-weight="bold" fill="#111" text-anchor="middle" textLength="87" lengthAdjust="spacingAndGlyphs" stroke="#111" stroke-width="0.35" >0,01S + 2, но</text>
<text x="636.2" y="829.6" font-family="&quot;Liberation Sans&quot;, sans-serif" font-size="13.5" font-weight="bold" fill="#111" text-anchor="middle" textLength="90" lengthAdjust="spacingAndGlyphs" stroke="#111" stroke-width="0.35" >не более 4 мм</text>
<text x="544.2" y="870.1" font-family="&quot;Liberation Sans&quot;, sans-serif" font-size="15.5" font-weight="normal" fill="#111" text-anchor="start" textLength="87.5" lengthAdjust="spacingAndGlyphs" stroke="#111" stroke-width="0.8" >L = 5(S<tspan font-size='9' stroke-width='0.2'>1</tspan> - S)</text>
<text x="532.9" y="893.8" font-family="&quot;Liberation Sans&quot;, sans-serif" font-size="15.5" font-weight="normal" fill="#111" text-anchor="start" textLength="112" lengthAdjust="spacingAndGlyphs" stroke="#111" stroke-width="0.8" >L<tspan font-size='9' stroke-width='0.2'>1</tspan> = 2,5 (S<tspan font-size='9' stroke-width='0.2'>1</tspan> - S)</text>
</svg>
</body></html>
